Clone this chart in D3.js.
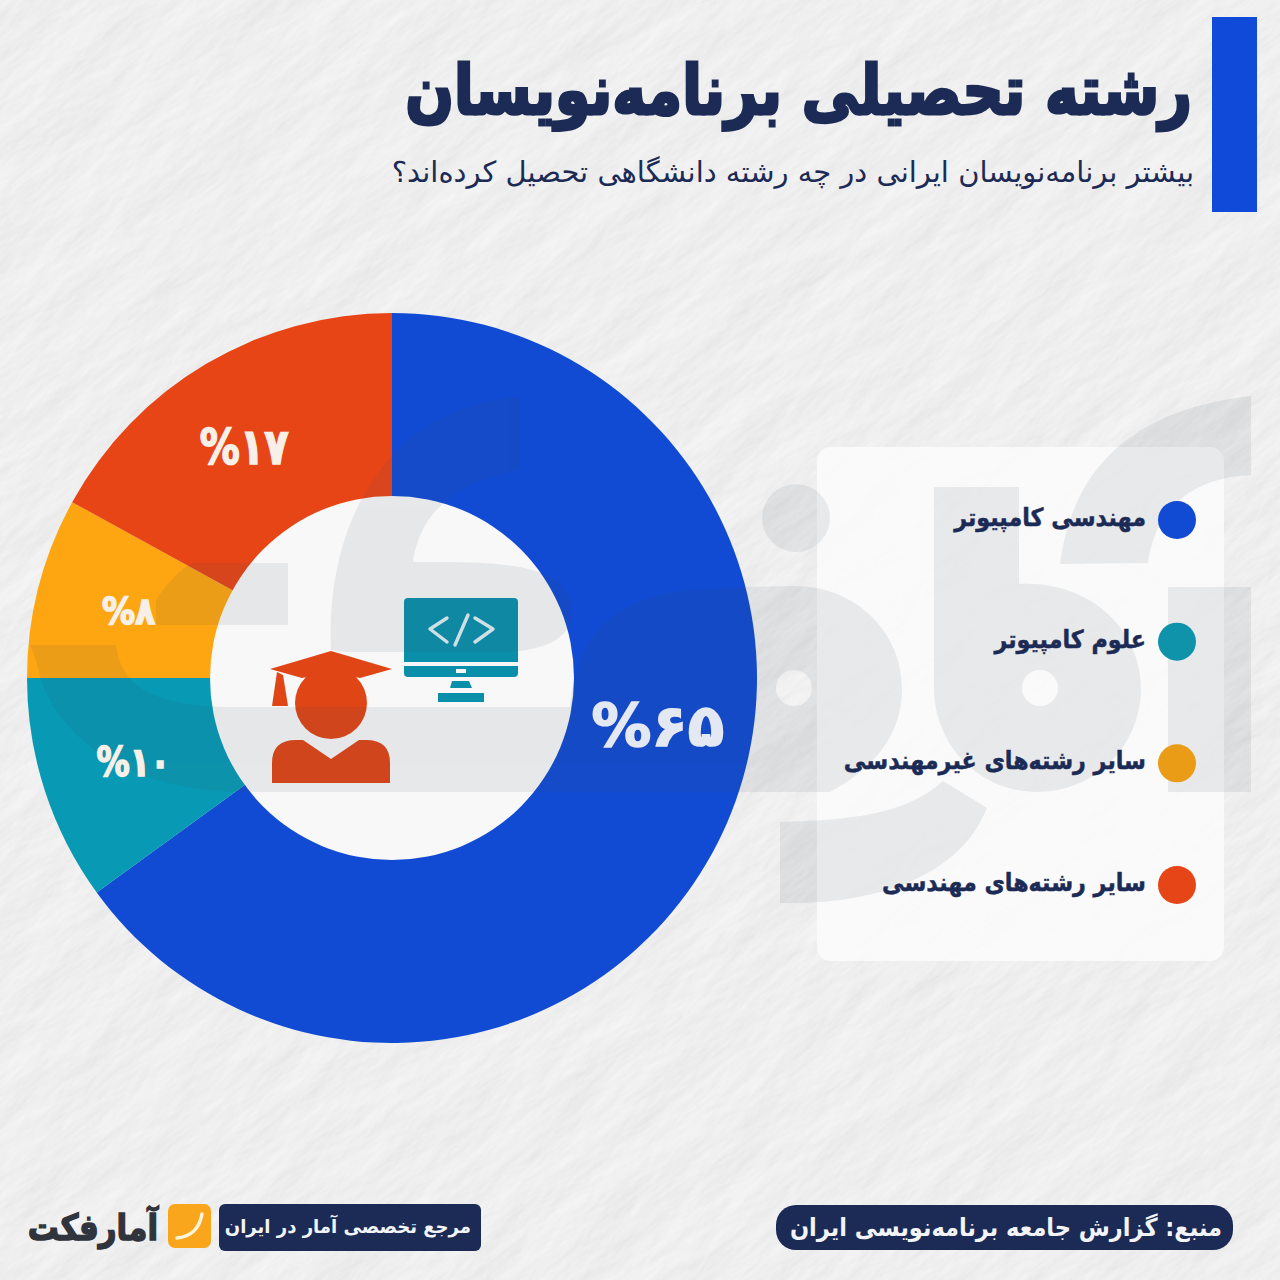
<!DOCTYPE html>
<html lang="fa"><head><meta charset="utf-8">
<style>html,body{margin:0;padding:0;background:#ececec}svg{display:block}text{font-family:"DejaVu Sans",sans-serif}</style>
<script src="https://cdn.jsdelivr.net/npm/d3@7"></script></head><body>
<script>
const categories=["مهندسی کامپیوتر","علوم کامپیوتر","سایر رشته‌های غیرمهندسی","سایر رشته‌های مهندسی"];
const values=[65,10,8,17];
const valueLabels=["%۶۵","%۱۰","%۸","%۱۷"];
const colors=["#114bd3","#0899b5","#fea611","#e84516"];
const legendColors=["#114bd3","#0e93ab","#ea9c17","#e64518"];
const titleText="رشته تحصیلی برنامه‌نویسان";
const subtitleText="بیشتر برنامه‌نویسان ایرانی در چه رشته دانشگاهی تحصیل کرده‌اند؟";
const sourceText="منبع: گزارش جامعه برنامه‌نویسی ایران";
const taglineText="مرجع تخصصی آمار در ایران";
const logoText="آمارفکت";

const W=1280,H=1280,navy="#1c2b55";
const svg=d3.select("body").append("svg").attr("width",W).attr("height",H).attr("viewBox",[0,0,W,H]);
const defs=svg.append("defs");
const f=defs.append("filter").attr("id","paper").attr("filterUnits","userSpaceOnUse").attr("x",-1000).attr("y",-1000).attr("width",3200).attr("height",3200);
f.append("feTurbulence").attr("type","fractalNoise").attr("baseFrequency","0.009 0.022").attr("numOctaves",6).attr("seed",23).attr("result","n");
const l=f.append("feDiffuseLighting").attr("in","n").attr("surfaceScale",1.5).attr("diffuseConstant",1.13).attr("lighting-color","#efefef");
l.append("feDistantLight").attr("azimuth",75).attr("elevation",62);

svg.append("rect").attr("width",W).attr("height",H).attr("fill","#ebebeb");
svg.append("rect").attr("x",-1000).attr("y",-1000).attr("width",3200).attr("height",3200).attr("filter","url(#paper)").attr("transform","rotate(-38 640 640)");

// donut
const cx=392,cy=678,R0=182,R1=365;
const pie=d3.pie().sort(null).value(d=>d).startAngle(0).endAngle(2*Math.PI);
const arcs=pie(values);
const arc=d3.arc().innerRadius(R0-2).outerRadius(R1);
const donut=svg.append("g").attr("transform",`translate(${cx},${cy})`);
donut.selectAll("path").data(arcs).join("path").attr("d",arc).attr("fill",(d,i)=>colors[i]);
donut.append("circle").attr("r",R0).attr("fill","#f8f8f8");

// legend panel
svg.append("rect").attr("x",817).attr("y",447).attr("width",407).attr("height",514).attr("rx",14).attr("fill","#fbfbfb").attr("opacity",.9);

// icons
const iconTeal="#0a8fab",iconRed="#e04516";
const ic=svg.append("g");
ic.append("rect").attr("x",404).attr("y",598).attr("width",114).attr("height",79).attr("rx",4).attr("fill",iconTeal);
ic.append("rect").attr("x",404).attr("y",662).attr("width",114).attr("height",4).attr("fill","#f4f6f7");
ic.append("rect").attr("x",456).attr("y",669).attr("width",10).attr("height",4).attr("fill","#f4f6f7");
ic.append("path").attr("d","M452 681H469L472 688H450Z").attr("fill",iconTeal);
ic.append("rect").attr("x",438).attr("y",693).attr("width",46).attr("height",9).attr("fill",iconTeal);
ic.append("path").attr("d","M447 618L430 629L447 642M468 615L455 645M475 618L493 629L475 642").attr("fill","none").attr("stroke","#dff0f4").attr("stroke-width",3.4).attr("stroke-linecap","round").attr("stroke-linejoin","round");
ic.append("path").attr("d","M331 651L392 669L360 678L331 672L302 678L270 669Z").attr("fill",iconRed);
ic.append("circle").attr("cx",331).attr("cy",703).attr("r",36).attr("fill",iconRed);
ic.append("path").attr("d","M277 672L283 675L288 706H272Z").attr("fill",iconRed);
ic.append("path").attr("d","M272 783V763Q272 740 296 740H303L331 759L359 740H366Q390 740 390 763V783Z").attr("fill",iconRed);

// watermark
const wm=svg.append("g").attr("fill","#3d4a5c").attr("opacity",.09);
wm.append("path").attr("d","M1168 587H1251V792H1168Z");
wm.append("path").attr("d","M1060 564C1070 490 1110 412 1251 396V475C1190 478 1155 510 1148 563Z");
wm.append("path").attr("fill-rule","evenodd").attr("d","M934 487H1019V584C1090 580 1141 630 1141 688C1141 746 1095 792 1037 792C980 792 934 746 934 688ZM1040 670A18 18 0 1 0 1040 706A18 18 0 1 0 1040 670Z");
wm.append("circle").attr("cx",796).attr("cy",518).attr("r",34);
wm.append("path").attr("fill-rule","evenodd").attr("d","M40 677C38 665 34 655 30 645H116C120 670 130 707 234 707H570C575 660 590 600 690 590C710 588 770 586 795 586C855 586 902 632 902 688C902 730 880 765 830 792H585H240C130 790 60 740 40 677ZM794 670A18 18 0 1 0 794 706A18 18 0 1 0 794 670Z");
wm.append("path").attr("d","M780 822C850 820 905 815 943 781L987 808C960 875 880 905 780 903Z");
wm.append("path").attr("d","M331 650C325 520 390 405 520 397V470C460 480 420 510 413 562C490 562 570 560 572 610C574 640 540 652 500 652H345Z");
wm.append("path").attr("d","M156 600C165 585 180 570 191 563H288V625H156Z");

// text helper: right-to-left text squeezed horizontally about its right edge
const rtl=(parent,x,y,sx,size,weight,fill,str)=>parent.append("text")
  .attr("transform",`translate(${x},${y}) scale(${sx},1)`).attr("direction","rtl").attr("text-anchor","start")
  .attr("font-size",size).attr("font-weight",weight).attr("fill",fill).text(str);

rtl(svg,1192,114,.84,68,700,navy,titleText).attr("stroke",navy).attr("stroke-width",3.2);
rtl(svg,1194,182,1,29,400,navy,subtitleText);
svg.append("rect").attr("x",1212).attr("y",17).attr("width",45).attr("height",195).attr("fill","#0f4bd8");

// slice labels
const labelAngles=[100,252,284.4,327.5],labelR=[270,272,272,275],labelSize=[58,40,38,50],labelSx=[1.03,.83,.87,.8];
const lab=svg.append("g");
arcs.forEach((d,i)=>{
  const p=d3.pointRadial(labelAngles[i]*Math.PI/180,labelR[i]);
  const c=i==0?"#e4e8f2":"#f6f0e8";
  lab.append("text").attr("transform",`translate(${cx+p[0]},${cy+p[1]}) scale(${labelSx[i]},1)`).attr("dy",".36em").attr("text-anchor","middle").attr("direction","ltr").style("unicode-bidi","bidi-override")
    .attr("font-size",labelSize[i]).attr("font-weight",700).attr("fill",c).attr("stroke",c).attr("stroke-width",1.6).text(valueLabels[i]);
});

// legend
const yL=d3.scalePoint().domain(categories).range([520,885]);
const lg=svg.append("g");
categories.forEach((c,i)=>{
  lg.append("circle").attr("cx",1177).attr("cy",yL(c)).attr("r",19).attr("fill",legendColors[i]);
  rtl(lg,1146,yL(c)+6,.89,25,700,navy,c).attr("stroke",navy).attr("stroke-width",.5);
});

// footer
svg.append("rect").attr("x",776).attr("y",1205).attr("width",457).attr("height",45).attr("rx",20).attr("fill",navy);
rtl(svg,1222,1236,.9,25,700,"#f2f4f8",sourceText);
svg.append("rect").attr("x",219).attr("y",1204).attr("width",262).attr("height",47).attr("rx",6).attr("fill",navy);
rtl(svg,471,1233,.95,19,700,"#f2f4f8",taglineText);
svg.append("rect").attr("x",168).attr("y",1204).attr("width",43).attr("height",44).attr("rx",7).attr("fill","#f9a61c");
svg.append("path").attr("d","M202 1214Q198 1236 177 1238").attr("fill","none").attr("stroke","#fff3d8").attr("stroke-width",3.5).attr("stroke-linecap","round");
rtl(svg,158,1240,.86,36,700,"#30343c",logoText).attr("stroke","#30343c").attr("stroke-width",1.5);
</script></body></html>
